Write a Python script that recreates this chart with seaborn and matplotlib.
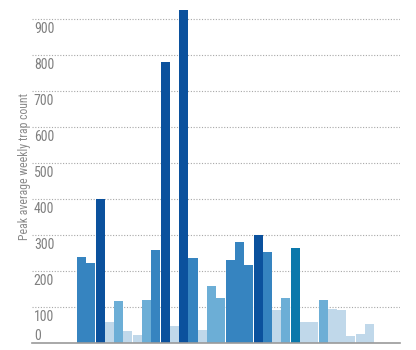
import matplotlib
matplotlib.use("Agg")
import matplotlib.pyplot as plt
import seaborn as sns
import pandas as pd
from matplotlib import font_manager

# ---- data ----
sites = ["S01", "S02", "S03", "S04", "S05", "S06", "S07", "S08", "S09", "S10",
         "S11", "S12", "S13", "S14", "S15", "S16", "S17", "S18", "S19", "S20",
         "S21", "S22", "S23", "S24", "S25", "S26", "S27", "S28", "S29", "S30",
         "S31", "S32"]
peak_counts = [239, 223, 400, 57, 116, 34, 23, 119, 259, 781,
               48, 925, 236, 35, 158, 126, 231, 281, 217, 300,
               252, 92, 126, 264, 58, 58, 119, 95, 91, 20,
               26, 53]
color_group = ["mid", "mid", "dark", "light", "mlight", "light", "light", "mlight", "mid", "dark",
               "light", "dark", "mid", "light", "mlight", "mlight", "mid", "mid", "mid", "dark",
               "mid", "light", "mlight", "teal", "light", "light", "mlight", "light", "light", "light",
               "light", "light"]
tick_values = [0, 100, 200, 300, 400, 500, 600, 700, 800, 900]
tick_labels = ["0", "100", "200", "300", "400", "500", "600", "700", "800", "900"]
y_label = "Peak average weekly trap count"

palette = {"dark": "#0b519d", "mid": "#3684c0", "mlight": "#6caed6",
           "light": "#c0d8ea", "teal": "#0b78ab"}

df = pd.DataFrame({"site": sites, "count": peak_counts, "group": color_group})

sns.set_theme(style="white")
avail = {f.name for f in font_manager.fontManager.ttflist}
cands = ["Roboto Condensed", "Liberation Sans Narrow", "Open Sans Condensed",
         "Noto Sans Condensed", "Open Sans", "DejaVu Sans"]
fam = [f for f in cands if f in avail]
narrow = fam[0] not in ("Open Sans", "DejaVu Sans")
plt.rcParams["font.family"] = fam

fig = plt.figure(figsize=(4.16, 3.5), dpi=100)
ax = fig.add_axes([32 / 416, 7 / 350, 368 / 416, 343 / 350])

sns.barplot(data=df, x="site", y="count", hue="group", palette=palette,
            dodge=False, width=0.97, legend=False, ax=ax, linewidth=0,
            saturation=1)

ax.set_xlim(-5.33, 34.28)
ax.set_ylim(0, 953)
ax.set_yticks(tick_values)
ax.yaxis.grid(True, linestyle=(0, (1, 1.5)), color="#a8a8a8", linewidth=0.8)
ax.xaxis.grid(False)
ax.set_axisbelow(True)
ax.tick_params(left=False, bottom=False, labelleft=False, labelbottom=False)
ax.set_xlabel("")
for s in ["top", "right", "left"]:
    ax.spines[s].set_visible(False)
ax.spines["bottom"].set_color("#9a9a9a")
ax.spines["bottom"].set_linewidth(1.2)

tick_fs = 10 if narrow else 9
trans = matplotlib.transforms.blended_transform_factory(ax.transAxes, ax.transData)
for v, lab in zip(tick_values, tick_labels):
    dy = 3 if v == 0 else -14
    ax.annotate(lab, xy=(0.005, v), xycoords=trans, xytext=(0, dy),
                textcoords="offset pixels", ha="left", va="baseline",
                fontsize=tick_fs, color="#808080")

ax.set_ylabel(y_label, fontsize=(8.5 if narrow else 7.3), color="#8a8a8a")
ax.yaxis.set_label_coords(-0.003, 0.516)

fig.savefig("out.png", dpi=100)
